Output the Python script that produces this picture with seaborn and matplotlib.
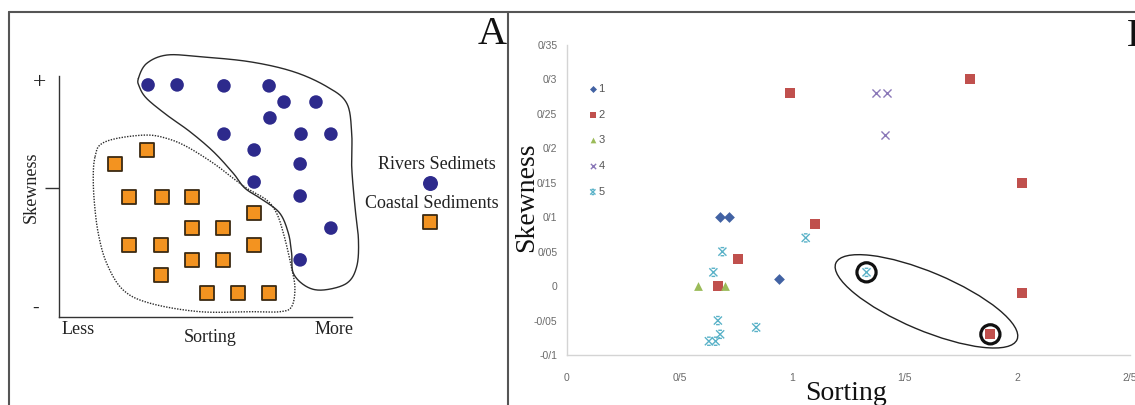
import numpy as np
import pandas as pd
import matplotlib
matplotlib.use("Agg")
import matplotlib.pyplot as plt
import seaborn as sns
from matplotlib.path import Path
from matplotlib.patches import Ellipse
from matplotlib.transforms import IdentityTransform
from matplotlib.lines import Line2D

# Panel A: schematic (arbitrary 0-10 units of sorting / skewness)
river_sorting = [3.04, 4.03, 5.63, 7.17, 7.68, 8.77, 7.20, 5.63, 8.26, 9.28, 6.66, 8.23, 6.66, 8.23, 9.28, 8.23]
river_skew = [9.63, 9.63, 9.59, 9.59, 8.92, 8.92, 8.26, 7.59, 7.59, 7.59, 6.93, 6.35, 5.60, 5.02, 3.69, 2.37]
coast_sorting = [3.00, 1.91, 2.39, 3.52, 4.54, 6.66, 4.54, 5.60, 2.39, 3.48, 6.66, 4.54, 5.60, 3.48, 5.05, 6.11, 7.17]
coast_skew = [6.93, 6.35, 4.98, 4.98, 4.98, 4.32, 3.69, 3.69, 2.99, 2.99, 2.99, 2.37, 2.37, 1.74, 1.00, 1.00, 1.00]

# hand drawn outlines around the two groups (same units)
river_outline_x = [2.71, 2.99, 3.68, 4.81, 6.52, 8.00, 9.14, 9.82, 9.99, 9.99, 10.10, 10.22, 10.16, 9.82,
                   9.02, 8.45, 8.00, 7.94, 7.83, 7.54, 6.97, 6.35, 5.95, 5.27, 4.47, 3.68, 2.99, 2.74]
river_outline_y = [9.90, 10.52, 10.87, 10.80, 10.59, 10.18, 9.56, 8.87, 7.62, 6.24, 4.58, 3.20, 2.09, 1.40,
                   1.12, 1.26, 1.81, 2.64, 3.47, 4.30, 4.85, 5.34, 5.96, 6.86, 7.69, 8.38, 9.07, 9.56]
coast_outline_x = [1.23, 1.40, 1.97, 2.99, 3.68, 4.36, 5.27, 5.95, 6.41, 7.09, 7.43, 7.66, 7.88, 8.05,
                   7.94, 7.54, 6.63, 4.81, 3.11, 2.19, 1.63, 1.34, 1.20, 1.17]
coast_outline_y = [6.65, 7.14, 7.41, 7.55, 7.41, 7.07, 6.38, 5.75, 5.34, 4.85, 4.30, 3.47, 2.37, 1.26,
                   0.43, 0.22, 0.22, 0.22, 0.57, 1.12, 2.22, 3.47, 4.85, 5.96]

# Panel B: measured samples, five series
s1_sorting = [0.68, 0.72, 0.94]
s1_skew = [0.10, 0.10, 0.01]
s2_sorting = [0.99, 1.10, 0.76, 0.67, 1.79, 2.02, 2.02, 1.88]
s2_skew = [0.28, 0.09, 0.04, 0.00, 0.30, 0.15, -0.01, -0.07]
s3_sorting = [0.58, 0.70]
s3_skew = [0.00, 0.00]
s4_sorting = [1.37, 1.42, 1.41]
s4_skew = [0.28, 0.28, 0.22]
s5_sorting = [1.06, 0.69, 0.65, 0.67, 0.84, 0.68, 0.63, 0.66, 1.33]
s5_skew = [0.07, 0.05, 0.02, -0.05, -0.06, -0.07, -0.08, -0.08, 0.02]
circled_sorting = [1.33, 1.88]
circled_skew = [0.02, -0.07]

b_xticks = [0, 0.5, 1, 1.5, 2, 2.5]
b_xticklabels = ["0", "0/5", "1", "1/5", "2", "2/5"]
b_yticks = [-0.1, -0.05, 0, 0.05, 0.1, 0.15, 0.2, 0.25, 0.3, 0.35]
b_yticklabels = ["-0/1", "-0/05", "0", "0/05", "0/1", "0/15", "0/2", "0/25", "0/3", "0/35"]


def smooth_closed(xs, ys, n=24):
    # closed Catmull-Rom curve through the outline points
    pts = np.column_stack([xs, ys])
    m = len(pts)
    t = np.linspace(0, 1, n, endpoint=False)[:, None]
    segs = []
    for i in range(m):
        p0, p1, p2, p3 = pts[i - 1], pts[i], pts[(i + 1) % m], pts[(i + 2) % m]
        segs.append(0.5 * (2 * p1 + (-p0 + p2) * t + (2 * p0 - 5 * p1 + 4 * p2 - p3) * t ** 2
                           + (-p0 + 3 * p1 - 3 * p2 + p3) * t ** 3))
    out = np.vstack(segs)
    return np.vstack([out, out[:1]])


sns.set_theme(style="white")
plt.rcParams["font.family"] = ["Liberation Serif", "DejaVu Serif"]

W, H = 1135, 405
fig = plt.figure(figsize=(W / 100, H / 100), dpi=100)

# ---------------- panel A ----------------
axA = fig.add_axes([59 / W, 1 - 317 / H, 293 / W, 241 / H])
axA.set_xlim(0, 10)
axA.set_ylim(0, 10)

cx, cy = smooth_closed(river_outline_x, river_outline_y).T
axA.plot(cx, cy, color="#2a2a2a", lw=1.0, clip_on=False)
dx, dy = smooth_closed(coast_outline_x, coast_outline_y).T
axA.plot(dx, dy, color="#2a2a2a", lw=1.0, ls=(0, (1, 1)), clip_on=False)

river_df = pd.DataFrame({"Sorting": river_sorting, "Skewness": river_skew})
coast_df = pd.DataFrame({"Sorting": coast_sorting, "Skewness": coast_skew})
sns.scatterplot(data=river_df, x="Sorting", y="Skewness", ax=axA, marker="o", s=95,
                color="#2d2a8c", edgecolor="none", clip_on=False, zorder=3)
sns.scatterplot(data=coast_df, x="Sorting", y="Skewness", ax=axA, marker="s", s=105,
                color="#f39320", edgecolor="#3b2a12", linewidth=1.3, clip_on=False, zorder=3)

# legend drawn to the right of the axes, text above marker
axA.text(12.9, 6.31, "Rivers Sedimets", ha="center", va="center", fontsize=13, color="#222")
axA.scatter([12.66], [5.56], marker="o", s=95, color="#2d2a8c", clip_on=False)
axA.text(12.73, 4.70, "Coastal Sediments", ha="center", va="center", fontsize=13, color="#222")
axA.scatter([12.66], [3.94], marker="s", s=105, color="#f39320", edgecolor="#3b2a12",
            linewidth=1.3, clip_on=False)

for side in ["top", "right"]:
    axA.spines[side].set_visible(False)
for side in ["left", "bottom"]:
    axA.spines[side].set_color("#333333")
    axA.spines[side].set_linewidth(1.0)

axA.set_xticks([0.64, 9.4], ["Less", "More"])
axA.tick_params(axis="x", length=0, pad=3, labelsize=13, labelcolor="#222")
axA.set_yticks([5.35], [""])
axA.tick_params(axis="y", length=10, width=1.0, color="#333333", left=True, direction="out")
axA.text(-0.65, 9.71, "+", ha="center", va="center", fontsize=17, color="#222")
axA.text(-0.8, 0.37, "-", ha="center", va="center", fontsize=14, color="#222")
axA.set_xlabel("Sorting", fontsize=13, color="#222", va="center")
axA.xaxis.set_label_coords(0.515, -0.087)
axA.set_ylabel("Skewness", fontsize=13, color="#222", va="center")
axA.yaxis.set_label_coords(-0.095, 0.54)
axA.grid(False)

fig.text(492 / W, 1 - 34 / H, "A", ha="center", va="center", fontsize=29, color="#111")

# ---------------- panel B ----------------
axB = fig.add_axes([567 / W, 1 - 355 / H, 563 / W, 310 / H])
axB.set_xlim(0, 2.5)
axB.set_ylim(-0.1, 0.35)

star5 = Path([(-1, -1), (1, 1), (-1, 1), (1, -1), (-0.45, 1), (0.45, 1), (-0.45, -1), (0.45, -1)],
             [Path.MOVETO, Path.LINETO] * 4)

sns.scatterplot(x=s1_sorting, y=s1_skew, ax=axB, marker="D", s=30, color="#4262a3",
                edgecolor="#4262a3", linewidth=0, label="1", zorder=3)
sns.scatterplot(x=s2_sorting, y=s2_skew, ax=axB, marker="s", s=44, color="#c0504d",
                edgecolor="#c0504d", linewidth=0, label="2", zorder=3)
sns.scatterplot(x=s3_sorting, y=s3_skew, ax=axB, marker="^", s=40, color="#9bbb59",
                edgecolor="#9bbb59", linewidth=0, label="3", zorder=3)
sns.scatterplot(x=s4_sorting, y=s4_skew, ax=axB, marker="x", s=34, color="#8a78b8",
                linewidth=1.0, label="4", zorder=3)
sns.scatterplot(x=s5_sorting, y=s5_skew, ax=axB, marker=star5, s=34, color="none",
                edgecolor="#5ab2c8", linewidth=1.0, label="5", zorder=3)

axB.scatter(circled_sorting, circled_skew, s=190, facecolors="none", edgecolors="#111111",
            linewidths=2.3, zorder=4)

# long ellipse around the two circled samples, drawn in pixel space
fig.canvas.draw()
p = axB.transData.transform(np.column_stack([circled_sorting, circled_skew]))
mid = p.mean(axis=0) + np.array([-2.0, 2.0])
d = np.hypot(*(p[1] - p[0]))
ang = np.degrees(np.arctan2(p[1][1] - p[0][1], p[1][0] - p[0][0]))
axB.add_patch(Ellipse(mid, d * 1.42, d * 0.42, angle=ang * 0.86, transform=IdentityTransform(),
                      fill=False, edgecolor="#222222", lw=1.0, zorder=4))

for side in ["top", "right"]:
    axB.spines[side].set_visible(False)
for side in ["left", "bottom"]:
    axB.spines[side].set_color("#d4d4d4")
    axB.spines[side].set_linewidth(1.0)

axB.set_xticks(b_xticks, b_xticklabels)
axB.set_yticks(b_yticks, b_yticklabels)
axB.tick_params(length=0, labelsize=7.5, labelcolor="#6a6a6a")
axB.tick_params(axis="x", pad=13)
axB.tick_params(axis="y", pad=7)
for lab in axB.get_xticklabels() + axB.get_yticklabels():
    lab.set_family("Liberation Sans")

axB.set_xlabel("Sorting", fontsize=20, color="#111", va="center")
axB.xaxis.set_label_coords(0.496, -0.125)
axB.set_ylabel("Skewness", fontsize=20, color="#111", va="center")
axB.yaxis.set_label_coords(-0.071, 0.51)
axB.grid(False)

leg = axB.legend(loc="upper left", bbox_to_anchor=(0.04, 0.875), frameon=False, fontsize=8,
                 markerscale=0.65, handlelength=0.6, handletextpad=0.2, labelspacing=1.42,
                 borderpad=0, borderaxespad=0)
for t in leg.get_texts():
    t.set_family("Liberation Sans")
    t.set_color("#555555")

fig.text(1127 / W, 1 - 37 / H, "B", ha="left", va="center", fontsize=29, color="#111")

# figure frame lines
frame = dict(transform=fig.transFigure, color="#555555", lw=1.5)
fig.add_artist(Line2D([9 / W, 9 / W], [0, 1 - 12 / H], **frame))
fig.add_artist(Line2D([9 / W, 1], [1 - 12 / H, 1 - 12 / H], **frame))
fig.add_artist(Line2D([508 / W, 508 / W], [0, 1 - 12 / H], **frame))

fig.savefig("out.png", dpi=100)
